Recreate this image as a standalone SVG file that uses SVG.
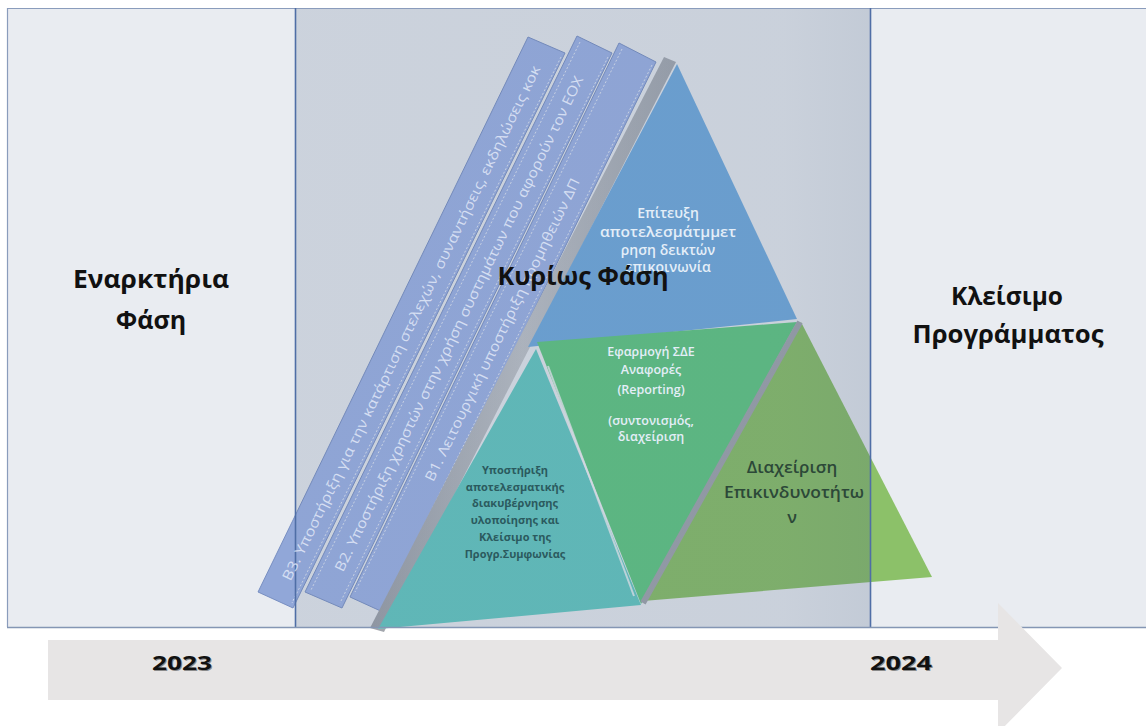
<svg xmlns="http://www.w3.org/2000/svg" width="1146" height="726" viewBox="0 0 1146 726">
<defs>
<style>
.lbl{font-family:"Open Sans","Liberation Sans",sans-serif;font-weight:700;fill:#111;text-anchor:middle}
.bar{fill:#a0b5e8;stroke:#7f95c8;stroke-width:1}
.bartxt{font-family:"Open Sans","Liberation Sans",sans-serif;font-size:14px;fill:#e2e9f8;fill-opacity:0.85;dominant-baseline:central}
.dash{stroke:#ffffff;stroke-opacity:0.7;stroke-width:1;stroke-dasharray:2 2;fill:none}
.wt{font-family:"Open Sans","Liberation Sans",sans-serif;font-weight:600;fill:#e4eef8;text-anchor:middle}
.tt{font-family:"Open Sans","Liberation Sans",sans-serif;font-weight:700;fill:#2b5a5e;text-anchor:middle;font-size:11px}
.gt{font-family:"Open Sans","Liberation Sans",sans-serif;font-weight:600;fill:#2c4838;text-anchor:middle;font-size:17px}
.yr{font-family:"Open Sans","Liberation Sans",sans-serif;font-weight:700;font-size:19px;text-anchor:middle}
</style>
<linearGradient id="band" x1="0" y1="0" x2="1" y2="0">
<stop offset="0" stop-color="#9fa3aa"/>
<stop offset="0.5" stop-color="#c3c6cb"/>
<stop offset="1" stop-color="#a7abb2"/>
</linearGradient>
<linearGradient id="ovl" x1="0" y1="0" x2="1" y2="0">
<stop offset="0" stop-color="#3c5578" stop-opacity="0.17"/>
<stop offset="0.85" stop-color="#3c5578" stop-opacity="0.18"/>
<stop offset="1" stop-color="#3c5578" stop-opacity="0.22"/>
</linearGradient>
</defs>
<rect x="0" y="0" width="1146" height="726" fill="#ffffff"/>
<g id="panels">
<rect x="7" y="8" width="1139" height="619" fill="#e9ecf1"/>
</g>
<g id="bars">
<polygon class="bar" points="528,37 565,53 293,608 258,592"/>
<polygon class="bar" points="577,36 612,53 342,608 305,592"/>
<polygon class="bar" points="619,43 656,62 385,613 350,597"/>
<polygon points="295,516 258,592 293,608 295,604" fill="#3c5578" fill-opacity="0.14"/>
<line class="dash" x1="561" y1="57" x2="292" y2="603"/>
<line class="dash" x1="608" y1="57" x2="340" y2="603"/>
<line class="dash" x1="652" y1="65" x2="383" y2="608"/>
<line class="dash" x1="580" y1="42" x2="311" y2="590"/>
<line class="dash" x1="622" y1="49" x2="355" y2="592"/>
</g>
<g id="pyramid">
<polygon points="664,57 676,62 384,632 370,628" fill="url(#band)"/>
<polygon id="blue" points="677,64 797,319 528,347" fill="#74ade0"/>
<polygon id="midgreen" points="537,342 797,322 641,604" fill="#63ca84"/>
<polygon id="teal" points="536,349 641,605 378,629" fill="#67cbc4"/>
<polygon id="right" points="801,322 932,577 643,601" fill="#8cc169"/>
<line x1="800" y1="322" x2="643" y2="603" stroke="#a3a7ae" stroke-width="6"/>
<line x1="548" y1="366" x2="634" y2="596" stroke="#f2f5f8" stroke-width="2" stroke-opacity="0.8"/>
</g>
<rect id="mainoverlay" x="295" y="8" width="575" height="619" fill="url(#ovl)"/>
<g id="borders" fill="none">
<line x1="7" y1="8.5" x2="1146" y2="8.5" stroke="#8a9cbc" stroke-width="1.2"/>
<line x1="7.5" y1="8" x2="7.5" y2="627" stroke="#8a9cbc" stroke-width="1.2"/>
<line x1="295.5" y1="8" x2="295.5" y2="627" stroke="#4f6ea6" stroke-width="1.6"/>
<line x1="870.5" y1="8" x2="870.5" y2="627" stroke="#4f6ea6" stroke-width="1.6"/>
<line x1="7" y1="627.5" x2="1146" y2="627.5" stroke="#8496b4" stroke-width="1.5"/>
</g>
<g id="bar-labels">
<text class="bartxt" x="285.6" y="579.3" transform="rotate(-64 285.6 579.3)" textLength="571" lengthAdjust="spacingAndGlyphs">B3. Υποστήριξη για την κατάρτιση στελεχών, συναντήσεις, εκδηλώσεις  κοκ</text>
<text class="bartxt" x="338" y="570.3" transform="rotate(-64 338 570.3)" textLength="549" lengthAdjust="spacingAndGlyphs">B2. Υποστήριξη χρηστών στην χρήση συστημάτων που αφορούν τον ΕΟΧ</text>
<text class="bartxt" x="428.4" y="480" transform="rotate(-64 428.4 480)" textLength="335" lengthAdjust="spacingAndGlyphs">B1. Λειτουργική υποστήριξη προμηθειών ΔΠ</text>
</g>
<g id="node-blue-text" class="wt" font-size="14">
<text x="668" y="218">Επίτευξη</text>
<text x="668" y="237" textLength="136" lengthAdjust="spacingAndGlyphs">αποτελεσμάτμμετ</text>
<text x="668" y="255">ρηση δεικτών</text>
<text x="668" y="272">επικοινωνία</text>
</g>
<g id="node-midgreen-text" class="wt" font-size="12.5">
<text x="651" y="356">Εφαρμογή ΣΔΕ</text>
<text x="651" y="374">Αναφορές</text>
<text x="651" y="394">(Reporting)</text>
<text x="651" y="425">(συντονισμός,</text>
<text x="651" y="441">διαχείριση</text>
</g>
<g id="node-teal-text">
<text class="tt" x="515" y="474">Υποστήριξη</text>
<text class="tt" x="515" y="491">αποτελεσματικής</text>
<text class="tt" x="515" y="507">διακυβέρνησης</text>
<text class="tt" x="515" y="524">υλοποίησης  και</text>
<text class="tt" x="515" y="541">Κλείσιμο της</text>
<text class="tt" x="515" y="558">Προγρ.Συμφωνίας</text>
</g>
<g id="node-right-text">
<text class="gt" x="792" y="473">Διαχείριση</text>
<text class="gt" x="794" y="498" textLength="140" lengthAdjust="spacingAndGlyphs">Επικινδυνοτήτω</text>
<text class="gt" x="792" y="523">ν</text>
</g>
<g id="node-start">
<text class="lbl" x="151" y="288" font-size="25" textLength="156" lengthAdjust="spacingAndGlyphs">Εναρκτήρια</text>
<text class="lbl" x="151" y="329" font-size="25">Φάση</text>
</g>
<g id="node-main">
<text class="lbl" x="583" y="285" font-size="25" textLength="171" lengthAdjust="spacingAndGlyphs">Κυρίως Φάση</text>
</g>
<g id="node-close">
<text class="lbl" x="1007" y="305" font-size="25" textLength="112" lengthAdjust="spacingAndGlyphs">Κλείσιμο</text>
<text class="lbl" x="1008" y="343" font-size="25" textLength="191" lengthAdjust="spacingAndGlyphs">Προγράμματος</text>
</g>
<g id="timeline">
<polygon points="48,640 998,640 998,603 1062,668 998,733 998,700 48,700" fill="#e7e5e5"/>
<text class="yr" x="183" y="671" fill="#8a8a8a" textLength="60" lengthAdjust="spacingAndGlyphs">2023</text>
<text class="yr" x="182" y="670" fill="#111" textLength="60" lengthAdjust="spacingAndGlyphs">2023</text>
<text class="yr" x="902" y="671" fill="#8a8a8a" textLength="62" lengthAdjust="spacingAndGlyphs">2024</text>
<text class="yr" x="901" y="670" fill="#111" textLength="62" lengthAdjust="spacingAndGlyphs">2024</text>
</g>
</svg>
